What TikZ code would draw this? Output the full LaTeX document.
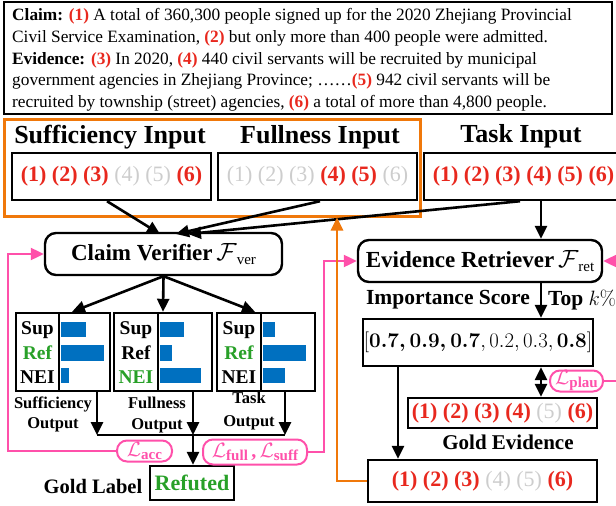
\documentclass[tikz,border=0pt]{standalone}
\usepackage[no-math]{fontspec}
\setmainfont{Liberation Serif}
\usetikzlibrary{arrows.meta}
\definecolor{numred}{RGB}{232,40,30}
\definecolor{numgrey}{RGB}{205,205,205}
\definecolor{pinkc}{RGB}{255,80,170}
\definecolor{orangec}{RGB}{240,120,10}
\definecolor{barblue}{RGB}{0,112,192}
\definecolor{greenc}{RGB}{40,160,40}
\newcommand\rn[1]{\textcolor{numred}{\textbf{(#1)}}}
\newcommand\gn[1]{\textcolor{numgrey}{(#1)}}
\newcommand\fs[2]{\fontsize{#1}{#2}\selectfont}
\newcommand\lsub[1]{\raisebox{-3pt}{\fs{15}{15}\bfseries #1}}
\newcommand\fsub[1]{\raisebox{-4pt}{\fs{15}{15}#1}}
\tikzset{
  blk/.style={draw, line width=2.4pt, inner sep=0pt},
  rbox/.style={draw, line width=2.4pt, rounded corners=11pt, inner sep=0pt},
  arr/.style={line width=2.6pt, -{Triangle[length=13pt,width=12pt]}},
  darr/.style={line width=2.6pt, {Triangle[length=13pt,width=12pt]}-{Triangle[length=13pt,width=12pt]}},
  parr/.style={draw=pinkc, line width=2.2pt, -{Triangle[length=13pt,width=12pt]}, pinkc},
  bubble/.style={draw=pinkc, line width=2pt, rounded corners=10pt, inner sep=0pt, text=pinkc, font=\fs{20}{22}},
  oarr/.style={draw=orangec, line width=2.6pt, -{Triangle[length=13pt,width=12pt]}, orangec},
  lab/.style={inner sep=0pt, font=\fs{19.5}{22}\bfseries},
  head/.style={inner sep=0pt, font=\fs{26}{30}\bfseries},
  nums/.style={font=\fs{22}{26}},
  bar/.style={fill=barblue},
}
\begin{document}
\begin{tikzpicture}[x=1pt,y=-1pt]
\useasboundingbox (0,0) rectangle (616,506);
\clip (0,0) rectangle (616,506);
% claim box
\node[blk, minimum width=608pt, minimum height=112pt] (claimbox) at (308,58) {};
\node[anchor=north west, inner sep=0pt, align=left, font=\fs{17.3}{21.7}] (claimtxt) at (12,8.5)
{\textbf{Claim:} \rn{1} A total of 360,300 people signed up for the 2020 Zhejiang Provincial\\
Civil Service Examination, \rn{2} but only more than 400 people were admitted.\\
\textbf{Evidence:} \rn{3} In 2020, \rn{4} 440 civil servants will be recruited by municipal\\
government agencies in Zhejiang Province; ……\rn{5} 942 civil servants will be\\
recruited by township (street) agencies, \rn{6} a total of more than 4,800 people.};
% orange box
\node[draw=orangec, line width=3pt, minimum width=416pt, minimum height=97pt, inner sep=0pt] (obox) at (212.5,167.5) {};
% headings
\node[head] (suffh) at (110,137) {Sufficiency Input};
\node[head] (fullh) at (320,137) {Fullness Input};
\node[head] (taskh) at (521,136) {Task Input};
% input boxes
\node[blk, nums, minimum width=199pt, minimum height=47pt] (suff) at (111.5,176.5) {\rn{1} \rn{2} \rn{3} \gn{4} \gn{5} \rn{6}};
\node[blk, nums, minimum width=199pt, minimum height=47pt] (full) at (317.5,176.5) {\gn{1} \gn{2} \gn{3} \rn{4} \rn{5} \gn{6}};
\node[blk, nums, minimum width=199pt, minimum height=47pt] (task) at (523.5,176.5) {\rn{1} \rn{2} \rn{3} \rn{4} \rn{5} \rn{6}};
% claim verifier
\node[rbox, minimum width=237pt, minimum height=42pt, font=\fs{23}{26}] (ver) at (163.5,254) {\textbf{Claim Verifier}\,$\mathcal{F}$\fsub{ver}};
\coordinate (vt1) at (160,234);
\coordinate (vt2) at (176,234);
\coordinate (vt3) at (188,234);
\draw[arr] (suff.south -| 107,0) -- (vt1);
\draw[arr] (full.south -| 320,0) -- (vt2);
\draw[arr] (task.south -| 520,0) -- (vt3);
% output boxes
\node[blk, minimum width=94pt, minimum height=78pt] (out1) at (63,352) {};
\node[blk, minimum width=98pt, minimum height=78pt] (out2) at (163,352) {};
\node[blk, minimum width=98pt, minimum height=78pt] (out3) at (266,352) {};
\draw[line width=2.4pt] (out1.north -| 59,0) -- (out1.south -| 59,0);
\draw[line width=2.4pt] (out2.north -| 158,0) -- (out2.south -| 158,0);
\draw[line width=2.4pt] (out3.north -| 261,0) -- (out3.south -| 261,0);
\draw[arr] (ver.south) -- (out1.north -| 72,0);
\draw[arr] (ver.south) -- (out2.north -| 163,0);
\draw[arr] (ver.south) -- (out3.north -| 255,0);
% labels
\node[lab] (s1) at (37.5,330) {Sup};
\node[lab, text=greenc] (r1) at (37.5,353) {Ref};
\node[lab] (n1) at (37.5,377) {NEI};
\node[lab] (s2) at (136,330) {Sup};
\node[lab] (r2) at (136,353) {Ref};
\node[lab, text=greenc] (n2) at (136,377) {NEI};
\node[lab] (s3) at (239,330) {Sup};
\node[lab, text=greenc] (r3) at (239,353) {Ref};
\node[lab] (n3) at (239,377) {NEI};
% bars
\fill[bar] (60.5,322) rectangle (86,337);
\fill[bar] (60.5,345) rectangle (104,361);
\fill[bar] (60.5,368) rectangle (69,383);
\fill[bar] (159.5,322) rectangle (184,337);
\fill[bar] (159.5,345) rectangle (172,361);
\fill[bar] (159.5,368) rectangle (201,383);
\fill[bar] (262.5,322) rectangle (275,337);
\fill[bar] (262.5,345) rectangle (306,361);
\fill[bar] (262.5,368) rectangle (285,383);
% output labels
\node[align=center, inner sep=0pt, font=\fs{16.5}{20}\bfseries] (o1l) at (53,414) {Sufficiency\\Output};
\node[align=center, inner sep=0pt, font=\fs{16.5}{21}\bfseries] (o2l) at (157,415) {Fullness\\Output};
\node[align=center, inner sep=0pt, font=\fs{16.5}{23}\bfseries] (o3l) at (249,411) {Task\\Output};
% join
\coordinate (j1) at (97,435);
\coordinate (j2) at (193,435);
\coordinate (j3) at (285,435);
\draw[arr] (out1.south -| j1) -- (j1);
\draw[arr] (out2.south -| j2) -- (j2);
\draw[arr] (out3.south -| j3) -- (j3);
\draw[line width=2.6pt] (j1) -- (j3);
\node[blk, minimum width=84pt, minimum height=34pt, font=\fs{22}{26}\bfseries, text=greenc] (gold) at (192,483) {Refuted};
\draw[arr] (j2) -- (gold.north -| j2);
\node[lab, font=\fs{20.5}{24}\bfseries] (goldl) at (93,486) {Gold Label};
% bubbles
\node[bubble, minimum width=55pt, minimum height=21pt] (lacc) at (144.5,451) {$\mathcal{L}$\lsub{acc}};
\node[bubble, minimum width=104pt, minimum height=25pt] (lfs) at (255,452) {$\mathcal{L}$\lsub{full}\,\textbf{,}\,$\mathcal{L}$\lsub{suff}};
\draw[parr] (lacc.west) -- (8,451) |- (ver.west);
% evidence retriever
\node[rbox, minimum width=244pt, minimum height=42pt, font=\fs{23}{26}] (ret) at (480,261) {\textbf{Evidence Retriever}\,$\mathcal{F}$\fsub{ret}};
\draw[parr] (lfs.east) -- (324,452) |- (ret.west);
\draw[arr] (task.south -| 541,0) -- (ret.north -| 541,0);
\node[lab, font=\fs{21.5}{24}\bfseries] (imp) at (448,300) {Importance Score};
\node[anchor=west, inner sep=0pt, font=\fs{21.5}{24}\bfseries] (topk) at (548,300) {Top $k\%$};
\node[blk, minimum width=230pt, minimum height=47pt, font=\fs{19.5}{24}] (score) at (478,342.5) {$[\mbox{\boldmath$0.7, 0.9, 0.7$}, 0.2, 0.3, \mbox{\boldmath$0.8$}]$};
\draw[arr] (ret.south -| 541,0) -- (score.north -| 541,0);
\node[blk, nums, minimum width=189pt, minimum height=30pt] (gev) at (502.5,413) {\rn{1} \rn{2} \rn{3} \rn{4} \gn{5} \rn{6}};
\draw[darr] (score.south -| 541,0) -- (gev.north -| 541,0);
\node[lab, font=\fs{21}{24}\bfseries] (gevl) at (508,442) {Gold Evidence};
\node[bubble, minimum width=53pt, minimum height=21pt, fill=white] (lplau) at (576.5,381) {$\mathcal{L}$\lsub{plau}};
\draw[parr] (lplau.east) -- (630,381) |- (ret.east);
\node[blk, nums, minimum width=229pt, minimum height=42pt] (sel) at (482.5,481) {\rn{1} \rn{2} \rn{3} \gn{4} \gn{5} \rn{6}};
\draw[arr] (score.south -| 398,0) -- (sel.north -| 398,0);
\draw[oarr] (sel.west) -- (337,481) -- (obox.south -| 337,0);
\end{tikzpicture}
\end{document}
